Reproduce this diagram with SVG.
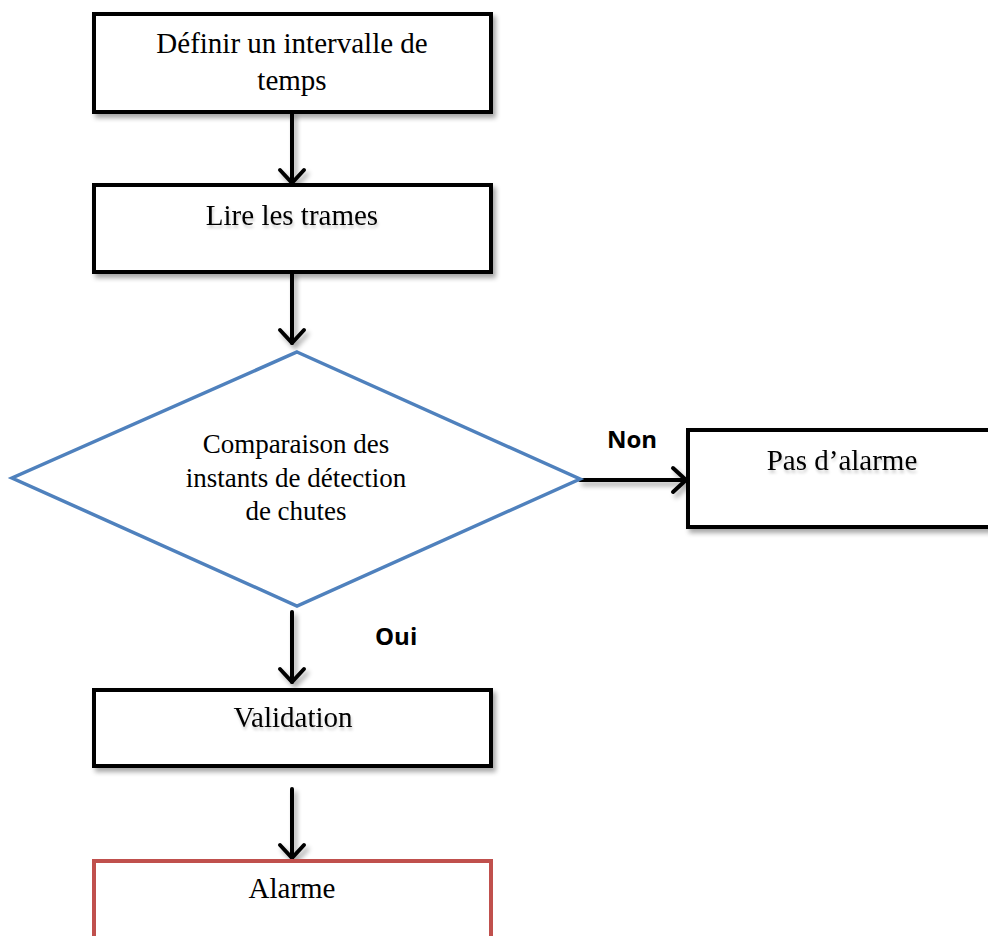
<svg xmlns="http://www.w3.org/2000/svg" width="988" height="936" viewBox="0 0 988 936">
<defs>
<filter id="sh" x="-10%" y="-10%" width="130%" height="140%">
<feGaussianBlur in="SourceAlpha" stdDeviation="2.5"/>
<feOffset dx="3" dy="4" result="b"/>
<feComponentTransfer><feFuncA type="linear" slope="0.35"/></feComponentTransfer>
<feMerge><feMergeNode/><feMergeNode in="SourceGraphic"/></feMerge>
</filter>
<filter id="tsh" x="-10%" y="-20%" width="120%" height="160%">
<feGaussianBlur in="SourceAlpha" stdDeviation="1.5"/>
<feOffset dx="1" dy="3" result="b"/>
<feComponentTransfer><feFuncA type="linear" slope="0.2"/></feComponentTransfer>
<feMerge><feMergeNode/><feMergeNode in="SourceGraphic"/></feMerge>
</filter>
</defs>
<style>
.box{fill:#fff;stroke:#000;stroke-width:4}
.red{fill:#fff;stroke:#C0504D;stroke-width:4}
.dia{fill:#fff;stroke:#4F81BD;stroke-width:3.5}
.t{font-family:"Liberation Serif","Times New Roman",serif;font-size:29px;fill:#000;text-anchor:middle}
.td{font-family:"Liberation Serif","Times New Roman",serif;font-size:27px;fill:#000;text-anchor:middle}
.lbl{font-family:"Open Sans","Liberation Sans",sans-serif;font-size:24px;font-weight:bold;fill:#000}
.c{fill:none;stroke:#000;stroke-width:4;stroke-linejoin:round;stroke-linecap:round}
</style>
<g id="connectors" filter="url(#sh)">
<line class="c" x1="292" y1="113" x2="292" y2="183"/>
<path class="c" d="M280,170 L292,183 L304,170"/>
<line class="c" x1="292" y1="273" x2="292" y2="343"/>
<path class="c" d="M280,330 L292,343 L304,330"/>
<line class="c" x1="580" y1="480" x2="686" y2="480"/>
<path class="c" d="M673,468 L686,480 L673,492"/>
<line class="c" x1="292" y1="612" x2="292" y2="682"/>
<path class="c" d="M280,669 L292,682 L304,669"/>
<line class="c" x1="292" y1="789" x2="292" y2="858"/>
<path class="c" d="M280,845 L292,858 L304,845"/>
</g>
<g id="n1">
<rect class="box" x="94" y="14" width="397" height="98" filter="url(#sh)"/>
<text class="t" x="292" y="53">Définir un intervalle de</text>
<text class="t" x="292" y="90">temps</text>
</g>
<g id="n2">
<rect class="box" x="94" y="185" width="397" height="87" filter="url(#sh)"/>
<text class="t" x="292" y="225" filter="url(#tsh)">Lire les trames</text>
</g>
<g id="n3">
<polygon class="dia" points="297,352 580,479 297,606 12,478"/>
<text class="td" x="296" y="453">Comparaison des</text>
<text class="td" x="296" y="487">instants de détection</text>
<text class="td" x="296" y="520">de chutes</text>
</g>
<g id="n4">
<rect class="box" x="688" y="430" width="320" height="97" filter="url(#sh)"/>
<text class="t" x="842" y="470" filter="url(#tsh)">Pas d’alarme</text>
</g>
<g id="n5">
<rect class="box" x="94" y="690" width="397" height="76" filter="url(#sh)"/>
<text class="t" x="293" y="727" filter="url(#tsh)">Validation</text>
</g>
<g id="n6">
<rect class="red" x="94" y="861" width="397" height="100"/>
<text class="t" x="292" y="898">Alarme</text>
</g>
<text class="lbl" x="607" y="448">Non</text>
<text class="lbl" x="375" y="645">Oui</text>
</svg>
